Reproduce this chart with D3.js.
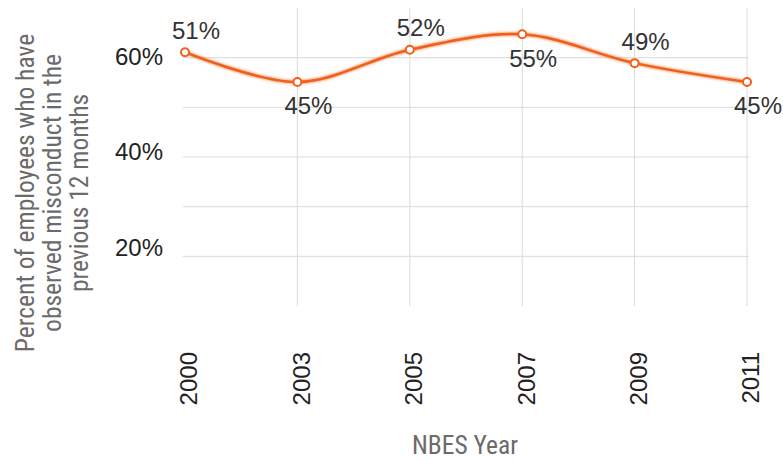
<!DOCTYPE html>
<html>
<head>
<meta charset="utf-8">
<script src="https://cdnjs.cloudflare.com/ajax/libs/d3/7.8.5/d3.min.js"></script>
<style>
  body { margin: 0; background: #fff; }
  svg { display: block; }
  .tick-label { font-family: "Liberation Sans", Arial, sans-serif; font-size: 24px; fill: #222; }
  .data-label { font-family: "Liberation Sans", Arial, sans-serif; font-size: 24px; fill: #333; }
  .axis-title { font-family: "Liberation Sans Narrow", "Roboto Condensed", sans-serif; font-size: 25.5px; fill: #6b6b6b; }
</style>
</head>
<body>
<div id="chart"></div>
<script>
// values as drawn against the y axis, and the labels printed beside each point
const years = ['2000', '2003', '2005', '2007', '2009', '2011'];
const plotted = [61.1, 55.1, 61.6, 64.7, 58.9, 55.1];
const pointLabels = ['51%', '45%', '52%', '55%', '49%', '45%'];
const labelSide = ['above', 'below', 'above', 'below', 'above', 'below'];
const gridValues = [20, 30, 40, 50, 60];
const tickValues = [20, 40, 60];
const tickLabels = ['20%', '40%', '60%'];
const yTitle = ['Percent of employees who have', 'observed misconduct in the', 'previous 12 months'];
const xTitle = 'NBES Year';

const width = 783;
const height = 460;

const svg = d3.select('#chart').append('svg')
  .attr('width', width)
  .attr('height', height);

const x = d3.scalePoint()
  .domain(years)
  .range([185, 747]);

const y = d3.scaleLinear()
  .domain([10, 70])
  .range([306, 8]);

// tick labels in the picture sit a little above their gridlines toward the bottom
const yLabel = d3.scaleLinear()
  .domain([20, 60])
  .range([y(20) - 9, y(60) - 1]);

const defs = svg.append('defs');
const glow = defs.append('filter').attr('id', 'glow')
  .attr('x', '-5%').attr('y', '-50%').attr('width', '110%').attr('height', '200%');
glow.append('feGaussianBlur').attr('in', 'SourceGraphic').attr('stdDeviation', 1.6).attr('result', 'b');
const merge = glow.append('feMerge');
merge.append('feMergeNode').attr('in', 'b');
merge.append('feMergeNode').attr('in', 'SourceGraphic');

// gridlines
svg.append('g')
  .selectAll('line')
  .data(gridValues)
  .join('line')
  .attr('x1', 183)
  .attr('x2', 749)
  .attr('y1', d => y(d))
  .attr('y2', d => y(d))
  .attr('stroke', '#dadada')
  .attr('stroke-width', 1);

svg.append('g')
  .selectAll('line')
  .data(years.slice(1))
  .join('line')
  .attr('x1', d => x(d))
  .attr('x2', d => x(d))
  .attr('y1', y(70))
  .attr('y2', y(10))
  .attr('stroke', '#dadada')
  .attr('stroke-width', 1);

// y tick labels
svg.append('g')
  .selectAll('text')
  .data(tickValues)
  .join('text')
  .attr('class', 'tick-label')
  .attr('x', 163)
  .attr('y', d => yLabel(d))
  .attr('dy', '0.35em')
  .attr('text-anchor', 'end')
  .text((d, i) => tickLabels[i]);

// x tick labels, rotated
svg.append('g')
  .selectAll('text')
  .data(years)
  .join('text')
  .attr('class', 'tick-label')
  .attr('transform', d => 'translate(' + (x(d) + 4) + ',352) rotate(-90)')
  .attr('dy', '0.35em')
  .attr('text-anchor', 'end')
  .text(d => d);

// line
const points = years.map((d, i) => ({ year: d, value: plotted[i], label: pointLabels[i], side: labelSide[i] }));

const line = d3.line()
  .x(d => x(d.year))
  .y(d => y(d.value))
  .curve(d3.curveCatmullRom.alpha(0.5));

svg.append('path')
  .datum(points)
  .attr('d', line)
  .attr('fill', 'none')
  .attr('stroke', '#f0601a')
  .attr('stroke-width', 2.5)
  .attr('filter', 'url(#glow)');

svg.append('g')
  .selectAll('circle')
  .data(points)
  .join('circle')
  .attr('cx', d => x(d.year))
  .attr('cy', d => y(d.value))
  .attr('r', 4)
  .attr('fill', '#fff')
  .attr('stroke', '#f0601a')
  .attr('stroke-width', 2);

svg.append('g')
  .selectAll('text')
  .data(points)
  .join('text')
  .attr('class', 'data-label')
  .attr('x', d => x(d.year) + 11)
  .attr('y', d => y(d.value) + (d.side === 'above' ? -22 : 24))
  .attr('dy', '0.35em')
  .attr('text-anchor', 'middle')
  .text(d => d.label);

// axis titles
svg.append('text')
  .attr('class', 'axis-title')
  .attr('transform', 'translate(52,193) rotate(-90)')
  .attr('text-anchor', 'middle')
  .selectAll('tspan')
  .data(yTitle)
  .join('tspan')
  .attr('x', 0)
  .attr('y', (d, i) => (i - 1) * 27)
  .attr('dy', '0.35em')
  .text(d => d);

svg.append('text')
  .attr('class', 'axis-title')
  .attr('x', 465)
  .attr('y', 445)
  .attr('dy', '0.35em')
  .attr('text-anchor', 'middle')
  .text(xTitle);
</script>
</body>
</html>
